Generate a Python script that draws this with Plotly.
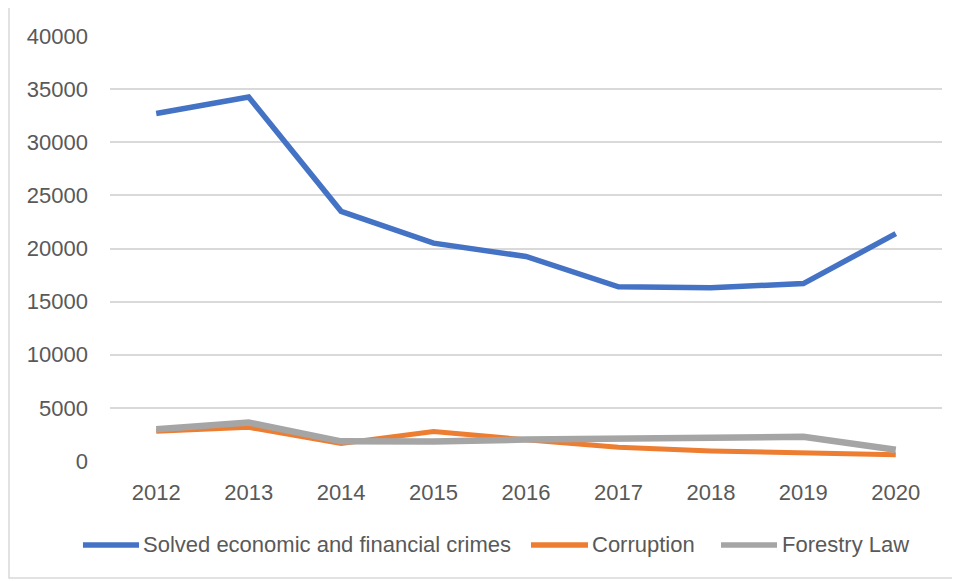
import plotly.graph_objects as go

years = ["2012", "2013", "2014", "2015", "2016", "2017", "2018", "2019", "2020"]
solved = [32700, 34250, 23500, 20500, 19250, 16400, 16300, 16700, 21400]
corruption = [2800, 3170, 1650, 2780, 2000, 1300, 950, 780, 580]
forestry = [2980, 3620, 1850, 1830, 2020, 2120, 2280, 2280, 1060]
y_ticks = [0, 5000, 10000, 15000, 20000, 25000, 30000, 35000, 40000]

series_names = ["Solved economic and financial crimes", "Corruption", "Forestry Law"]
series_values = [solved, corruption, forestry]
series_colors = ["#4472C4", "#ED7D31", "#A5A5A5"]
series_widths = [5.5, 5, 6.5]

fig = go.Figure()
for name, vals, color, w in zip(series_names, series_values, series_colors, series_widths):
    fig.add_trace(go.Scatter(x=years, y=vals, mode="lines", name=name,
                             line=dict(color=color, width=w), showlegend=False))

font = dict(family="Liberation Sans", size=22, color="#595959")

# custom legend (line sample + label), positions in paper coordinates
legend_pos = [(-0.0325, 0.0349, 0.0397), (0.5060, 0.5745, 0.5793), (0.7344, 0.8017, 0.8077)]
legend_y = -0.1976
shapes = [dict(type="rect", xref="paper", yref="paper",
               x0=-0.1214, x1=1.0168, y0=-0.275, y1=1.068,
               line=dict(color="#D9D9D9", width=1.5), fillcolor="rgba(0,0,0,0)",
               layer="below")]
annotations = []
for (x0, x1, xt), name, color in zip(legend_pos, series_names, series_colors):
    shapes.append(dict(type="line", xref="paper", yref="paper", x0=x0, x1=x1,
                       y0=legend_y, y1=legend_y, line=dict(color=color, width=5.5)))
    annotations.append(dict(xref="paper", yref="paper", x=xt, y=legend_y, text=name,
                            showarrow=False, xanchor="left", yanchor="middle",
                            xshift=-2, font=font))

fig.update_layout(
    width=960, height=581,
    margin=dict(l=102, r=26, t=28, b=128),
    paper_bgcolor="white", plot_bgcolor="white",
    font=font,
    showlegend=False,
    xaxis=dict(type="category", range=[-0.5, 8.5], showgrid=False, showline=False,
               zeroline=False, ticks="", ticklabelstandoff=16, tickfont=font),
    yaxis=dict(range=[0, 40000], tickvals=y_ticks, ticktext=[str(v) for v in y_ticks],
               showgrid=True, gridcolor="#D9D9D9", gridwidth=1.5, zeroline=False,
               showline=False, ticks="", ticklabelstandoff=21, tickfont=font),
    shapes=shapes,
    annotations=annotations,
)

fig.write_html("out.html")
